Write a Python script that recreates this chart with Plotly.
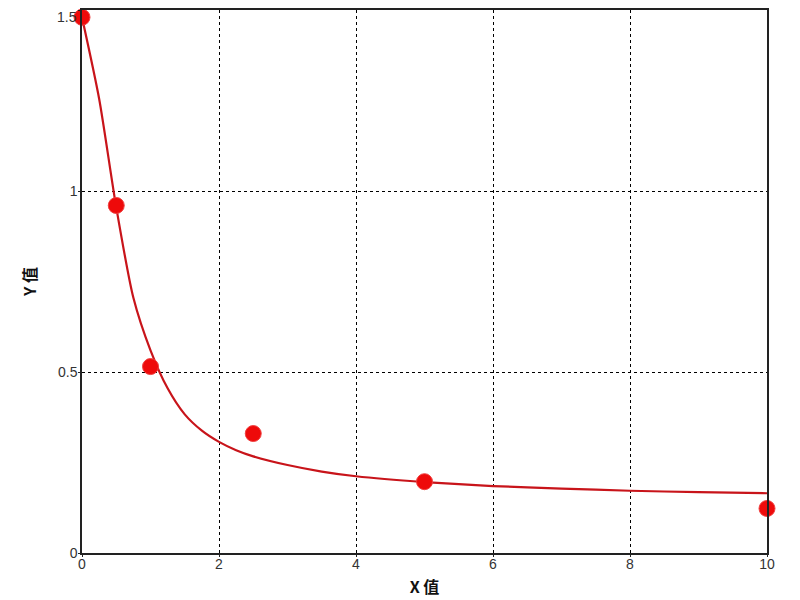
import plotly.graph_objects as go

# measured points
x_pts = [0, 0.5, 1, 2.5, 5, 10]
y_pts = [1.48, 0.96, 0.515, 0.33, 0.197, 0.123]

# fitted curve
x_fit = [0, 0.25, 0.5, 0.75, 1, 1.25, 1.5, 1.75, 2, 2.25, 2.5, 3, 3.5, 4, 5, 6, 7, 8, 9, 10]
y_fit = [1.48, 1.255, 0.955, 0.705, 0.56, 0.455, 0.383, 0.338, 0.307, 0.284, 0.267, 0.243,
         0.225, 0.212, 0.196, 0.185, 0.178, 0.172, 0.168, 0.165]

x_ticks = [0, 2, 4, 6, 8, 10]
y_ticks = [0, 0.5, 1, 1.5]
y_ticktext = ["0", "0.5", "1", ""]
top_label = "1.5"

fig = go.Figure()
fig.add_trace(go.Scatter(
    x=x_fit, y=y_fit, mode="lines",
    line=dict(color="#c8141a", width=2.2, shape="spline", smoothing=0.7),
    hoverinfo="skip", cliponaxis=False,
))
fig.add_trace(go.Scatter(
    x=x_pts, y=y_pts, mode="markers",
    marker=dict(color="#ee0a0a", size=16, line=dict(color="#f04040", width=1)),
    cliponaxis=False,
))

tick_font = dict(family="Liberation Sans, Arial, sans-serif", size=14, color="#333333")
axis_common = dict(
    showgrid=True, gridcolor="#000000", griddash="dot", gridwidth=1,
    showline=True, linecolor="#222222", linewidth=1.5, mirror=True,
    ticks="outside", ticklen=2, tickcolor="#222222",
    zeroline=False, automargin=False, ticklabeloverflow="allow",
    tickfont=tick_font,
)

fig.add_annotation(
    x=0, xref="paper", y=y_ticks[-1], yref="y", text=top_label, showarrow=False,
    xanchor="right", yanchor="top", xshift=-4, yshift=2, borderpad=0,
    font=tick_font,
)

fig.update_layout(
    width=792, height=592,
    margin=dict(l=74, r=33, t=2, b=47),
    paper_bgcolor="white", plot_bgcolor="white",
    showlegend=False,
    xaxis=dict(range=[0, 10], tickvals=x_ticks, ticklabelstandoff=-5, **axis_common,
               title=dict(text="<b>X 值</b>", standoff=11,
                          font=dict(family="Noto Sans CJK SC", size=16, color="#111111"))),
    yaxis=dict(range=[0, 1.5], tickvals=y_ticks, ticktext=y_ticktext,
               ticklabelstandoff=-2, **axis_common,
               title=dict(text="<b>Y 值</b>", standoff=17,
                          font=dict(family="Noto Sans CJK SC", size=16, color="#111111"))),
)

fig.write_html("out.html")
